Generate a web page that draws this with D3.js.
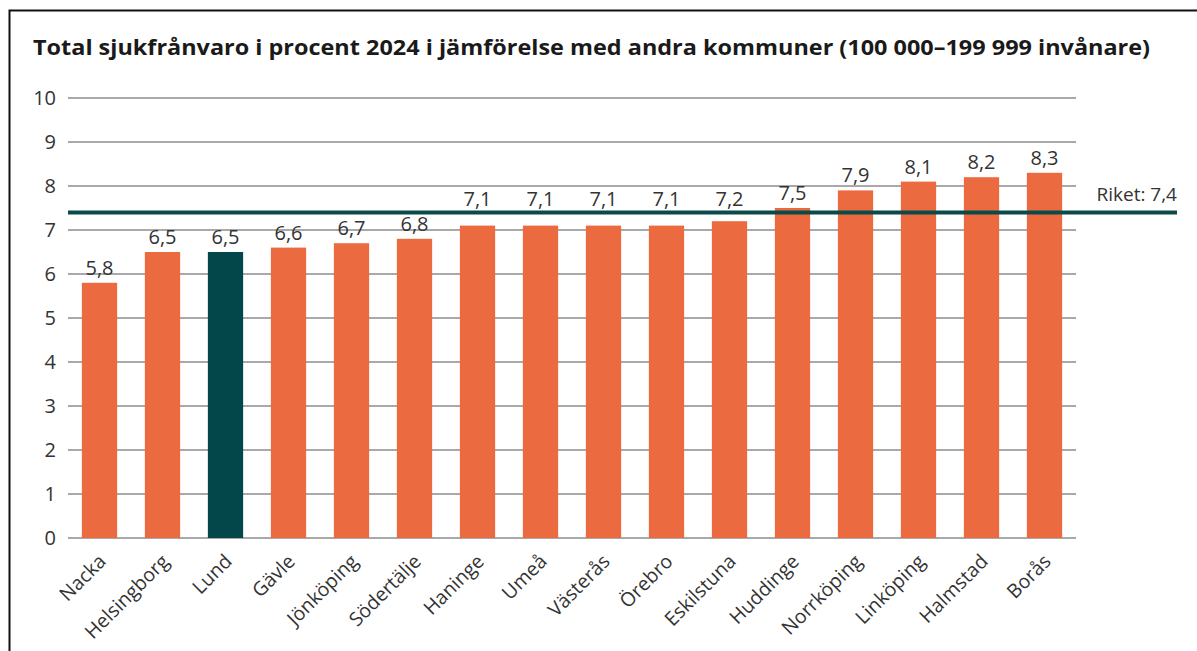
<!DOCTYPE html>
<html>
<head>
<meta charset="utf-8">
<script src="https://cdn.jsdelivr.net/npm/d3@7"></script>
<style>
  body { margin: 0; background: #fff; }
  svg { display: block; font-family: "Open Sans", sans-serif; }
</style>
</head>
<body>
<svg id="chart" width="1197" height="651"></svg>
<script>
// data
const kommuner = ['Nacka', 'Helsingborg', 'Lund', 'Gävle', 'Jönköping', 'Södertälje', 'Haninge', 'Umeå',
  'Västerås', 'Örebro', 'Eskilstuna', 'Huddinge', 'Norrköping', 'Linköping', 'Halmstad', 'Borås'];
const sjukfranvaro = [5.8, 6.5, 6.5, 6.6, 6.7, 6.8, 7.1, 7.1, 7.1, 7.1, 7.2, 7.5, 7.9, 8.1, 8.2, 8.3];
const highlighted = 'Lund';
const riket = 7.4;
const yTicks = [0, 1, 2, 3, 4, 5, 6, 7, 8, 9, 10];

const svg = d3.select('#chart');
const fmt = v => String(v).replace('.', ',');

// frame
svg.append('path')
  .attr('d', 'M9.5,651 L9.5,10.5 L1197,10.5')
  .attr('fill', 'none').attr('stroke', '#111').attr('stroke-width', 2);

svg.append('text')
  .attr('x', 33).attr('y', 55)
  .attr('font-size', 22).attr('font-weight', 700).attr('fill', '#1a1a1a')
  .attr('textLength', 1117).attr('lengthAdjust', 'spacingAndGlyphs')
  .text('Total sjukfrånvaro i procent 2024 i jämförelse med andra kommuner (100 000–199 999 invånare)');

const x = d3.scaleBand().domain(kommuner).range([68, 1076]).paddingInner(0.44).paddingOuter(0.22);
const y = d3.scaleLinear().domain([0, 10]).range([538, 98]);

// gridlines
svg.append('g').selectAll('line').data(yTicks).join('line')
  .attr('x1', 68).attr('x2', 1076)
  .attr('y1', d => y(d)).attr('y2', d => y(d))
  .attr('stroke', '#8c8c8c').attr('stroke-width', 1.3);

svg.append('g').selectAll('text').data(yTicks).join('text')
  .attr('x', 56).attr('y', d => y(d) + 7)
  .attr('text-anchor', 'end').attr('font-size', 20).attr('fill', '#333')
  .text(d => d);

// bars
svg.append('g').selectAll('rect').data(kommuner).join('rect')
  .attr('x', d => x(d)).attr('width', x.bandwidth())
  .attr('y', (d, i) => y(sjukfranvaro[i]))
  .attr('height', (d, i) => y(0) - y(sjukfranvaro[i]))
  .attr('fill', d => d === highlighted ? '#03474a' : '#ec6a40');

// riket line
svg.append('line')
  .attr('x1', 68).attr('x2', 1177)
  .attr('y1', y(riket)).attr('y2', y(riket))
  .attr('stroke', '#0a4a4b').attr('stroke-width', 4);
svg.append('text')
  .attr('x', 1177).attr('y', y(riket) - 11)
  .attr('text-anchor', 'end').attr('font-size', 19).attr('fill', '#333')
  .text('Riket: ' + fmt(riket));

// value labels, lifted above the riket line where they would collide
svg.append('g').selectAll('text').data(kommuner).join('text')
  .attr('x', d => x(d) + x.bandwidth() / 2)
  .attr('y', (d, i) => {
    const v = sjukfranvaro[i];
    const base = y(v) - 8;
    const hits = v < riket && base > y(riket) - 6 && base - 14 < y(riket) + 2;
    return hits ? y(riket) - 6 : base;
  })
  .attr('text-anchor', 'middle').attr('font-size', 20).attr('fill', '#333')
  .text((d, i) => fmt(sjukfranvaro[i]));

// category labels
svg.append('g').selectAll('text').data(kommuner).join('text')
  .attr('transform', d => `translate(${x(d) + x.bandwidth() / 2 - 2},${y(0) + 15}) rotate(-45)`)
  .attr('text-anchor', 'end').attr('dy', '0.7em').attr('font-size', 19.5).attr('fill', '#333')
  .text(d => d);
</script>
</body>
</html>
